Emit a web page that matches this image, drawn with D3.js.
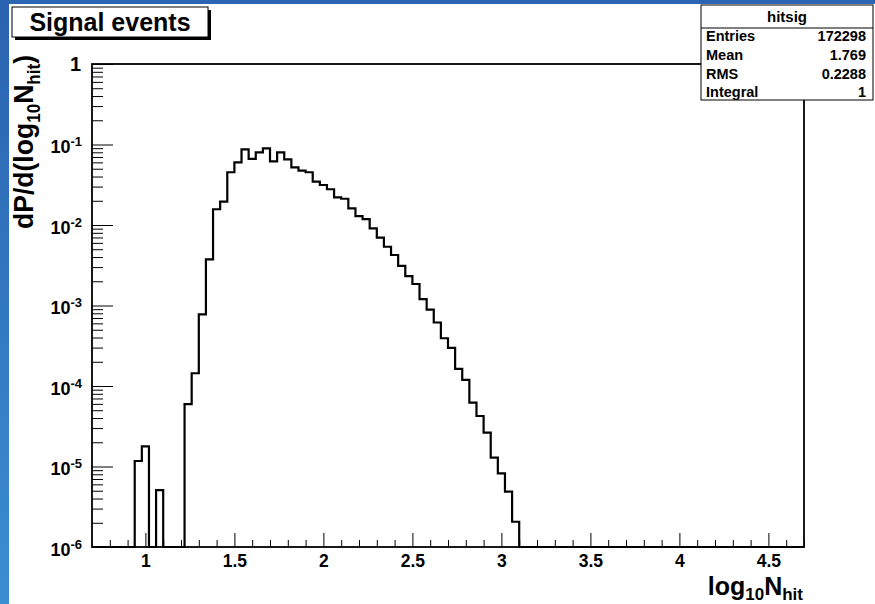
<!DOCTYPE html>
<html>
<head>
<meta charset="utf-8">
<script src="https://cdn.jsdelivr.net/npm/d3@7"></script>
<style>
  body { margin: 0; background: #fff; }
  svg { display: block; }
  text { font-family: "Liberation Sans", Arial, Helvetica, sans-serif; font-weight: bold; fill: #000; }
</style>
</head>
<body>
<svg id="chart" width="875" height="604"></svg>
<script>
// Histogram "hitsig": bin contents, bins of width 0.04 starting at log10(Nhit) = 0.94
const binStart = 0.94;
const binWidth = 0.04;
const binValues = [
  1.17e-5, 1.78e-5, 0, 5.1e-6, 0, 0, 0,
  5.97e-5, 1.44e-4, 7.78e-4, 3.75e-3, 1.57e-2, 1.95e-2, 4.52e-2, 6.01e-2,
  8.71e-2, 6.61e-2, 8.0e-2, 8.97e-2, 6.18e-2, 8.0e-2, 6.55e-2, 5.21e-2,
  4.73e-2, 4.52e-2, 3.45e-2, 3.14e-2, 2.78e-2, 2.21e-2, 2.12e-2, 1.61e-2,
  1.29e-2, 1.18e-2, 9.10e-3, 6.95e-3, 5.37e-3, 4.24e-3, 3.10e-3, 2.32e-3,
  1.85e-3, 1.20e-3, 8.91e-4, 6.15e-4, 3.92e-4, 2.97e-4, 1.63e-4, 1.19e-4,
  6.21e-5, 4.24e-5, 2.63e-5, 1.29e-5, 8.23e-6, 4.87e-6, 2.06e-6
];

const xDomain = [0.7, 4.7];
const yDomain = [1e-6, 1];
const xMajorTicks = [1, 1.5, 2, 2.5, 3, 3.5, 4, 4.5];
const xTickLabels = ["1", "1.5", "2", "2.5", "3", "3.5", "4", "4.5"];
const yDecadeExponents = [-6, -5, -4, -3, -2, -1, 0];

const titleText = "Signal events";
const statsTitle = "hitsig";
const statsNames = ["Entries", "Mean", "RMS", "Integral"];
const statsValues = ["172298", "1.769", "0.2288", "1"];

const W = 875, H = 604;
const frame = { left: 92, right: 804, top: 64, bottom: 547 };

const svg = d3.select("#chart");

// Canvas background with the blue border strips
const defs = svg.append("defs");
const grad = defs.append("linearGradient")
  .attr("id", "edgeBlue").attr("x1", 0).attr("y1", 0).attr("x2", 0).attr("y2", 1);
grad.append("stop").attr("offset", "0%").attr("stop-color", "#2a62b0");
grad.append("stop").attr("offset", "100%").attr("stop-color", "#3b8ed1");

svg.append("rect").attr("width", W).attr("height", H).attr("fill", "#fff");
svg.append("rect").attr("x", 0).attr("y", 0).attr("width", W).attr("height", 4).attr("fill", "#2c66b3");
svg.append("rect").attr("x", 0).attr("y", 0).attr("width", 9).attr("height", H).attr("fill", "url(#edgeBlue)");

// Scales
const x = d3.scaleLinear().domain(xDomain).range([frame.left, frame.right]);
const y = d3.scaleLog().domain(yDomain).range([frame.bottom, frame.top]);

// X axis: ticks point inward (upwards)
const xMinor = d3.range(8, 48).map(v => v / 10).filter(v => v >= xDomain[0] && v <= xDomain[1] && !xMajorTicks.some(m => Math.abs(m - v) < 1e-9));

const xAxisG = svg.append("g").attr("transform", `translate(0,${frame.bottom})`);
xAxisG.call(d3.axisBottom(x).tickValues(xMinor).tickSize(-7).tickFormat(""));
const xMajorG = svg.append("g").attr("transform", `translate(0,${frame.bottom})`);
xMajorG.call(d3.axisBottom(x).tickValues(xMajorTicks).tickSize(-14).tickPadding(8)
  .tickFormat((d, i) => xTickLabels[i]));
[xAxisG, xMajorG].forEach(g => {
  g.select(".domain").remove();
  g.selectAll(".tick line").attr("stroke", "#000").attr("stroke-width", 1);
});
xMajorG.selectAll(".tick text")
  .attr("font-size", 17.5).attr("font-family", "'Liberation Sans', Arial, sans-serif")
  .attr("font-weight", "bold").attr("fill", "#000");

// Y axis: log decades with minor ticks 2..9, inward (to the right)
const yMinor = [];
yDecadeExponents.slice(0, -1).forEach(e => {
  for (let m = 2; m <= 9; m++) yMinor.push(m * Math.pow(10, e));
});
const yMajor = yDecadeExponents.map(e => Math.pow(10, e));

const yMinorG = svg.append("g").attr("transform", `translate(${frame.left},0)`);
yMinorG.call(d3.axisLeft(y).tickValues(yMinor).tickSize(-11).tickFormat(""));
const yMajorG = svg.append("g").attr("transform", `translate(${frame.left},0)`);
yMajorG.call(d3.axisLeft(y).tickValues(yMajor).tickSize(-21).tickFormat(""));
[yMinorG, yMajorG].forEach(g => {
  g.select(".domain").remove();
  g.selectAll(".tick line").attr("stroke", "#000").attr("stroke-width", 1);
});

// Y tick labels: "1" and 10^n
const yLabels = svg.append("g");
yDecadeExponents.forEach(e => {
  const yy = y(Math.pow(10, e));
  if (e === 0) {
    yLabels.append("text").attr("x", 81).attr("y", yy + 7)
      .attr("text-anchor", "end").attr("font-size", 20).text("1");
  } else {
    const t = yLabels.append("text").attr("x", 82).attr("y", yy + 8.5)
      .attr("text-anchor", "end").attr("font-size", 18);
    t.append("tspan").text("10");
    t.append("tspan").attr("font-size", 13).attr("dy", -7).text(String(e));
  }
});

// Histogram outline (step line)
const pts = [[xDomain[0], 0]];
binValues.forEach((v, i) => pts.push([binStart + i * binWidth, v]));
pts.push([binStart + binValues.length * binWidth, 0]);
pts.push([xDomain[1], 0]);

const line = d3.line()
  .x(d => x(d[0]))
  .y(d => d[1] > 0 ? y(d[1]) : y(yDomain[0]))
  .curve(d3.curveStepAfter);

svg.append("path").datum(pts)
  .attr("d", line)
  .attr("fill", "none").attr("stroke", "#000").attr("stroke-width", 2.2)
  .attr("stroke-linejoin", "miter");

// Frame
svg.append("rect")
  .attr("x", frame.left).attr("y", frame.top)
  .attr("width", frame.right - frame.left).attr("height", frame.bottom - frame.top)
  .attr("fill", "none").attr("stroke", "#000").attr("stroke-width", 1.8);

// Axis titles
const xt = svg.append("text").attr("x", 803).attr("y", 594.5)
  .attr("text-anchor", "end").attr("font-size", 25);
xt.append("tspan").text("log");
xt.append("tspan").attr("font-size", 17).attr("dy", 5).text("10");
xt.append("tspan").attr("dy", -5).text("N");
xt.append("tspan").attr("font-size", 17).attr("dy", 5).text("hit");

const yt = svg.append("text")
  .attr("transform", "translate(33,55) rotate(-90)")
  .attr("text-anchor", "end").attr("font-size", 28)
  .attr("textLength", 174).attr("lengthAdjust", "spacingAndGlyphs");
yt.append("tspan").text("dP/d(log");
yt.append("tspan").attr("font-size", 18).attr("dy", 7).text("10");
yt.append("tspan").attr("dy", -7).text("N");
yt.append("tspan").attr("font-size", 18).attr("dy", 7).text("hit");
yt.append("tspan").attr("dy", -7).text(")");

// Title box with shadow
const tb = { x: 12, y: 7, w: 196, h: 30 };
svg.append("rect").attr("x", tb.x + 3).attr("y", tb.y + 3).attr("width", tb.w).attr("height", tb.h).attr("fill", "#000");
svg.append("rect").attr("x", tb.x).attr("y", tb.y).attr("width", tb.w).attr("height", tb.h)
  .attr("fill", "#fff").attr("stroke", "#000").attr("stroke-width", 1);
svg.append("text").attr("x", tb.x + tb.w / 2).attr("y", 31)
  .attr("text-anchor", "middle").attr("font-size", 25).text(titleText);

// Statistics box
const sb = { x: 701, y: 5, w: 172, h: 95 };
svg.append("rect").attr("x", sb.x).attr("y", sb.y).attr("width", sb.w).attr("height", sb.h)
  .attr("fill", "#fff").attr("stroke", "#000").attr("stroke-width", 1);
svg.append("line").attr("x1", sb.x).attr("x2", sb.x + sb.w).attr("y1", 28).attr("y2", 28)
  .attr("stroke", "#000").attr("stroke-width", 1);
svg.append("text").attr("x", sb.x + sb.w / 2).attr("y", 22)
  .attr("text-anchor", "middle").attr("font-size", 15).text(statsTitle);
const rowY = [41, 60, 79, 97];
statsNames.forEach((n, i) => {
  svg.append("text").attr("x", 706).attr("y", rowY[i]).attr("font-size", 14.5).text(n);
  svg.append("text").attr("x", 866).attr("y", rowY[i]).attr("text-anchor", "end")
    .attr("font-size", 14.5).text(statsValues[i]);
});
</script>
</body>
</html>
